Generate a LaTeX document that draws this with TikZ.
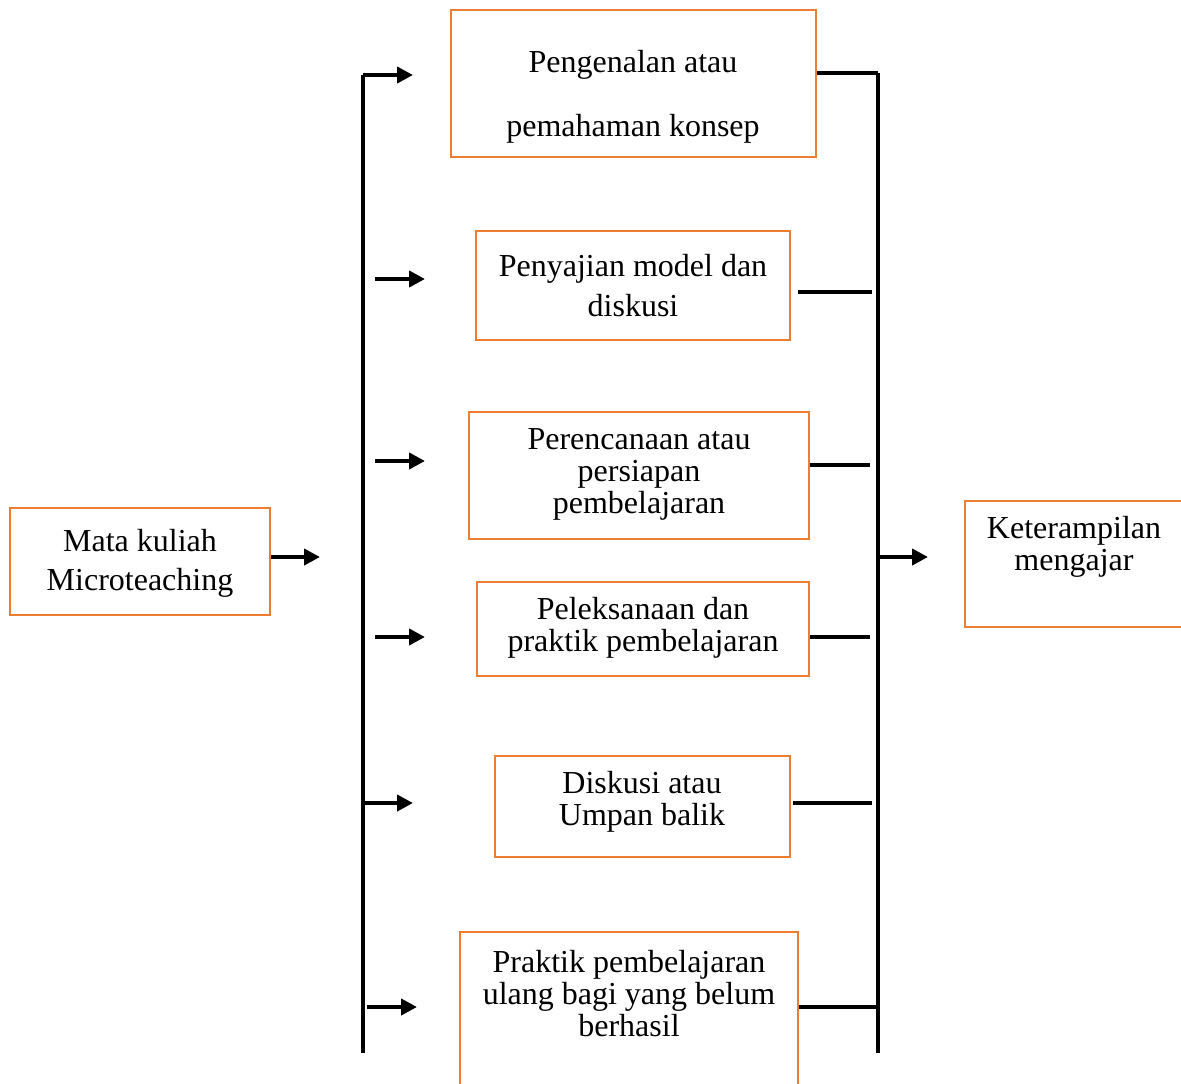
\documentclass[tikz,border=0pt]{standalone}
\usepackage{fontspec}
\setmainfont{Liberation Serif}
\definecolor{boxorange}{RGB}{237, 125, 49}
\usetikzlibrary{arrows.meta}

\begin{document}
\begin{tikzpicture}[x=0.375pt, y=-0.375pt,
    box/.style={draw=boxorange, line width=1pt, inner sep=0pt},
    txt/.style={inner sep=0pt, align=center, font=\fontsize{12}{12}\selectfont},
    bus/.style={line width=1.5pt},
    arr/.style={line width=1.5pt, -{Triangle[length=6pt, width=6pt]}}]
  \useasboundingbox (0,0) rectangle (1181,1084);

  % Input
  \node[box, minimum width=260*0.375pt, minimum height=107*0.375pt] (mk) at (140, 561.5) {};
  \node[txt, font=\fontsize{12}{14.6}\selectfont] (mkt) at (140, 563) {Mata kuliah\\Microteaching};

  % Steps
  \node[box, minimum width=365*0.375pt, minimum height=147*0.375pt] (s1) at (633.5, 83.5) {};
  \node[txt, font=\fontsize{12}{24}\selectfont] (s1t) at (633, 97) {Pengenalan atau\\pemahaman konsep};

  \node[box, minimum width=314*0.375pt, minimum height=109*0.375pt] (s2) at (633, 285.5) {};
  \node[txt, font=\fontsize{12}{15}\selectfont] (s2t) at (633, 286) {Penyajian model dan\\diskusi};

  \node[box, minimum width=340*0.375pt, minimum height=127*0.375pt] (s3) at (639, 475.5) {};
  \node[txt] (s3t) at (639, 474) {Perencanaan atau\\persiapan\\pembelajaran};

  \node[box, minimum width=332*0.375pt, minimum height=94*0.375pt] (s4) at (643, 629) {};
  \node[txt] (s4t) at (643, 628) {Peleksanaan dan\\praktik pembelajaran};

  \node[box, minimum width=295*0.375pt, minimum height=101*0.375pt] (s5) at (642.5, 806.5) {};
  \node[txt] (s5t) at (642, 802) {Diskusi atau\\Umpan balik};

  \node[box, minimum width=338*0.375pt, minimum height=170*0.375pt] (s6) at (629, 1017) {};
  \node[txt] (s6t) at (629, 994) {Praktik pembelajaran\\ulang bagi yang belum\\berhasil};

  % Output
  \node[box, minimum width=230*0.375pt, minimum height=126*0.375pt] (ka) at (1080, 564) {};
  \node[txt] (kat) at (1074, 547) {Keterampilan\\mengajar};

  % Left bus
  \coordinate (lt) at (363, 75);
  \coordinate (lb) at (363, 1053);
  \draw[bus] (lb) -- (lt);
  \draw[arr] (mk.east |- 0, 557) coordinate (mks) -- (320, 557) coordinate (mke);
  \draw[arr] (lt) -- (413, 75) coordinate (a1);
  \draw[arr] (375, 279) coordinate (a2s) -- (425, 279) coordinate (a2);
  \draw[arr] (375, 461) coordinate (a3s) -- (425, 461) coordinate (a3);
  \draw[arr] (375, 637) coordinate (a4s) -- (425, 637) coordinate (a4);
  \draw[arr] (363, 803) coordinate (a5s) -- (413, 803) coordinate (a5);
  \draw[arr] (367, 1007) coordinate (a6s) -- (417, 1007) coordinate (a6);

  % Right bus
  \coordinate (rt) at (878, 73);
  \coordinate (rb) at (878, 1053);
  \draw[bus] (rt) -- (rb);
  \draw[bus] (s1.east |- rt) -- (rt);
  \draw[bus] (798, 292) coordinate (r2) -- (872, 292) coordinate (r2e);
  \draw[bus] (s3.east |- 0, 465) coordinate (r3) -- (870, 465) coordinate (r3e);
  \draw[bus] (s4.east |- 0, 637) coordinate (r4) -- (870, 637) coordinate (r4e);
  \draw[bus] (793, 803) coordinate (r5) -- (872, 803) coordinate (r5e);
  \draw[bus] (s6.east |- 0, 1007) coordinate (r6) -- (878, 1007) coordinate (r6e);
  \draw[arr] (878, 557) coordinate (ks) -- (928, 557) coordinate (ke);
\end{tikzpicture}
\end{document}
